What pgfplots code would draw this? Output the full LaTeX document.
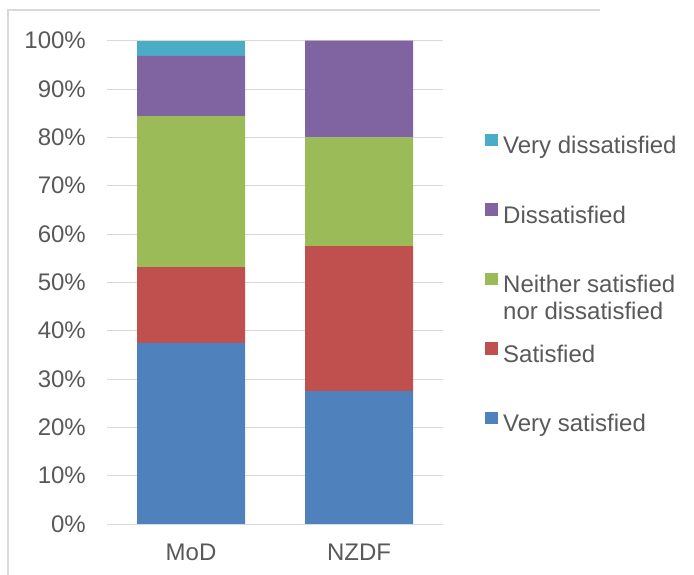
\documentclass[border=0pt]{standalone}
\usepackage{pgfplots}
\pgfplotsset{compat=1.18}
\usepackage{fontspec}
\setmainfont{Liberation Sans}

\definecolor{vsat}{HTML}{4F81BD}
\definecolor{sat}{HTML}{C0504D}
\definecolor{neither}{HTML}{9BBB59}
\definecolor{dissat}{HTML}{8064A2}
\definecolor{vdissat}{HTML}{4BACC6}
\definecolor{gridgray}{HTML}{D9D9D9}
\definecolor{textgray}{HTML}{595959}

\newcommand{\chartfont}{\fontsize{24bp}{27bp}\selectfont}

\begin{document}
\begin{tikzpicture}
% outer chart frame (only left and top edges are visible)
\fill[gridgray] (7.25bp,0bp) rectangle (8.75bp,565.75bp);
\fill[gridgray] (7.25bp,564.25bp) rectangle (600bp,565.75bp);

\begin{axis}[
    at={(107bp,51bp)}, anchor=south west,
    scale only axis,
    width=336bp, height=483.3bp,
    ybar stacked,
    bar width=108bp,
    xmin=-0.5, xmax=1.5,
    ymin=0, ymax=100,
    xtick={0,1},
    xticklabels={MoD,NZDF},
    ytick={0,10,...,100},
    yticklabel={\pgfmathprintnumber{\tick}\%},
    /pgf/number format/assume math mode=true,
    axis line style={draw=none},
    major tick length=0pt,
    ymajorgrids=true,
    grid style={draw=gridgray, line width=1bp},
    tick label style={text=textgray, font=\chartfont, inner sep=0pt},
    yticklabel style={anchor=east, xshift=-21bp},
    xticklabel style={anchor=north, yshift=-20bp},
    legend image code/.code={\fill[#1] (0bp,1.55bp) rectangle (12.7bp,14.25bp);},
    reverse legend,
    legend cell align=left,
    legend style={draw=none, fill=none, at={(1,1)}, anchor=north west,
        xshift=42bp, yshift=-92.7bp, inner sep=0pt,
        row sep=44.25bp, column sep=5.3bp,
        nodes={inner sep=0pt, text height=17bp, text depth=5bp,
               text=textgray, font=\chartfont}},
]
\addplot[fill=vsat, draw=none] coordinates {(0,37.5) (1,27.5)};
\addlegendentry{Very satisfied}
\addplot[fill=sat, draw=none] coordinates {(0,15.625) (1,30.0)};
\addlegendentry{Satisfied}
\addplot[fill=neither, draw=none] coordinates {(0,31.25) (1,22.5)};
\addlegendentry{\begin{tabular}[t]{@{}l@{}}Neither satisfied\\nor dissatisfied\end{tabular}}
\addplot[fill=dissat, draw=none] coordinates {(0,12.5) (1,20.0)};
\addlegendentry{Dissatisfied}
\addplot[fill=vdissat, draw=none] coordinates {(0,3.125) (1,0)};
\addlegendentry{Very dissatisfied}
\end{axis}

\pgfresetboundingbox
\path (0bp,0bp) rectangle (694bp,575bp);
\end{tikzpicture}
\end{document}
